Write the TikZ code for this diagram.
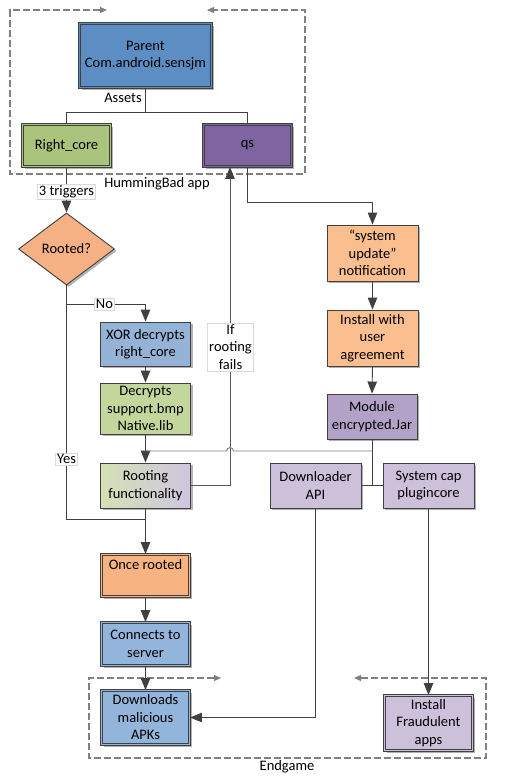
\documentclass[tikz,border=0pt]{standalone}
\usepackage{fontspec}
\setmainfont{Carlito}
\usetikzlibrary{arrows.meta,shapes.geometric,shadows}
\definecolor{boxline}{RGB}{64,64,64}
\definecolor{conncol}{RGB}{64,64,64}
\definecolor{connmid}{RGB}{88,88,88}
\definecolor{conngray}{RGB}{125,125,125}
\definecolor{parentc}{RGB}{92,142,196}
\definecolor{rcorec}{RGB}{170,195,125}
\definecolor{qsc}{RGB}{128,100,162}
\definecolor{diac}{RGB}{245,177,131}
\definecolor{xorc}{RGB}{149,179,215}
\definecolor{decrc}{RGB}{195,214,155}
\definecolor{rootg}{RGB}{212,225,180}
\definecolor{rootl}{RGB}{206,198,224}
\definecolor{orangec}{RGB}{250,190,143}
\definecolor{modc}{RGB}{179,162,199}
\definecolor{lavc}{RGB}{204,192,218}
\definecolor{oncec}{RGB}{247,180,130}
\definecolor{bluec}{RGB}{147,181,219}
\begin{document}
\begin{tikzpicture}[x=1pt,y=-1pt,
  font=\fontsize{14.5}{17.5}\selectfont,
  box/.style={draw=boxline, line width=0.9pt, minimum width=91pt, minimum height=45pt,
    inner sep=1pt, align=center, text=black,
    general shadow={fill=black!30, shadow xshift=2pt, shadow yshift=-2pt}},
  dbox/.style={box, fill=#1, double=#1, double distance=1.6pt, minimum width=88pt, minimum height=42pt},
  conn/.style={draw=conncol, line width=0.9pt},
  arr/.style={conn, -{Triangle[length=12pt,width=9.5pt,color=conncol]}},
  lbl/.style={fill=white, draw=black!15, line width=0.5pt, inner sep=1.5pt, align=center, text=black},
  cont/.style={draw=black!50, dash pattern=on 7pt off 3pt, line width=1.2pt,
    {Triangle[length=7pt,width=6pt]}-{Triangle[length=7pt,width=6pt]}},
  plain/.style={text=black}
]
\useasboundingbox (0,0) rectangle (519,780);
\fill[white] (0,0) rectangle (519,780);

% containers
\draw[cont] (107,10) -- (10,10) -- (10,174) -- (305,174) -- (305,10) -- (207,10);
\node[plain] (humlbl) at (157,184) {HummingBad app};
\draw[cont] (221,678) -- (89,678) -- (89,758) -- (486,758) -- (486,678) -- (354,678);
\node[plain] (endlbl) at (287,767) {Endgame};

% nodes
\node[dbox=parentc, minimum width=132pt, minimum height=64pt] (parent) at (145.5,55.5) {Parent\\Com.android.sensjm};
\node[dbox=rcorec] (rcore) at (66.5,145.5) {Right\_core};
\node[dbox=qsc] (qs) at (247.5,145.5) {qs};
\node[draw=boxline, line width=0.9pt, fill=diac, diamond, minimum width=96pt, minimum height=72pt,
  inner sep=1pt, text=black, general shadow={fill=black!30, shadow xshift=2pt, shadow yshift=-2pt}]
  (dia) at (66.5,249) {Rooted?};
\node[box, fill=xorc, minimum width=90pt, minimum height=44pt] (xor) at (145.5,344) {XOR decrypts\\right\_core};
\node[box, fill=decrc, minimum width=90pt, minimum height=51pt] (decr) at (145.5,408.5) {Decrypts\\support.bmp\\Native.lib};
\node[box, left color=rootg, right color=rootl, minimum width=90pt] (root) at (145.5,485.5) {Rooting\\functionality};
\node[box, fill=orangec, minimum height=56pt] (sysupd) at (372.5,253) {“system\\update”\\notification};
\node[box, fill=orangec, minimum height=56pt] (install) at (372.5,338) {Install with\\user\\agreement};
\node[box, fill=modc, minimum width=90pt] (module) at (372,416.5) {Module\\encrypted.Jar};
\node[box, fill=lavc] (dlapi) at (315.5,485.5) {Downloader\\API};
\node[box, fill=lavc] (syscap) at (428.5,485.5) {System cap\\plugincore};
\node[dbox=oncec, text depth=22pt] (once) at (145.5,575.5) {Once rooted};
\node[dbox=bluec, minimum height=43pt] (conn) at (145.5,644) {Connects to\\server};
\node[dbox=bluec, minimum height=54pt] (dwn) at (145.5,717.5) {Downloads\\malicious\\APKs};
\node[dbox=lavc, minimum height=55pt] (fraud) at (428.5,723) {Install\\Fraudulent\\apps};

% junction coordinates
\coordinate (assetsj) at (145.5,112);
\coordinate (nj) at (66.5,304);
\coordinate (yj) at (145.5,519);
\coordinate (mh) at (372,451);
\coordinate (mj) at (372,486);
\coordinate (qsj) at (247.5,202);

% connectors
\draw[conn] (parent.south) -- (assetsj) -| (rcore.north);
\draw[conn] (assetsj) -| (qs.north);
\node[plain] (assets) at (123,98) {Assets};
\draw[arr] (rcore.south) -- (dia.north);
\node[lbl] (trig) at (66.5,192) {3 triggers};
\draw[arr] (nj) -| (xor.north);
\node[lbl] (nolbl) at (104.5,304) {No};
\draw[conn] (dia.south) |- (yj);
\node[lbl] (yeslbl) at (66.5,459) {Yes};
\draw[arr] (xor.south) -- (decr.north);
\draw[arr] (decr.south) -- (root.north);
\draw[arr] (root.south) -- (once.north);
\draw[arr] (once.south) -- (conn.north);
\draw[arr] (conn.south) -- (dwn.north);
\draw[arr, draw=connmid] (root.east) -| ([xshift=-17.5pt]qs.south);
\node[lbl] (fails) at (230.5,347) {If\\rooting\\fails};
\draw[arr] (qs.south) -- (qsj) -| (sysupd.north);
\draw[arr] (sysupd.south) -- (install.north);
\draw[arr] (install.south) -- (module.north);
\draw[conn] (module.south) -- (mj);
\draw[conn] (dlapi.east) -- (syscap.west);
\draw[conn, draw=conngray] (mh) -- (233.5,451) .. controls (233.5,446.5) and (226.5,446.5) .. (226.5,451) -- (145.5,451);
\draw[arr] (dlapi.south) |- (dwn.east);
\draw[arr] (syscap.south) -- (fraud.north);
\end{tikzpicture}
\end{document}
